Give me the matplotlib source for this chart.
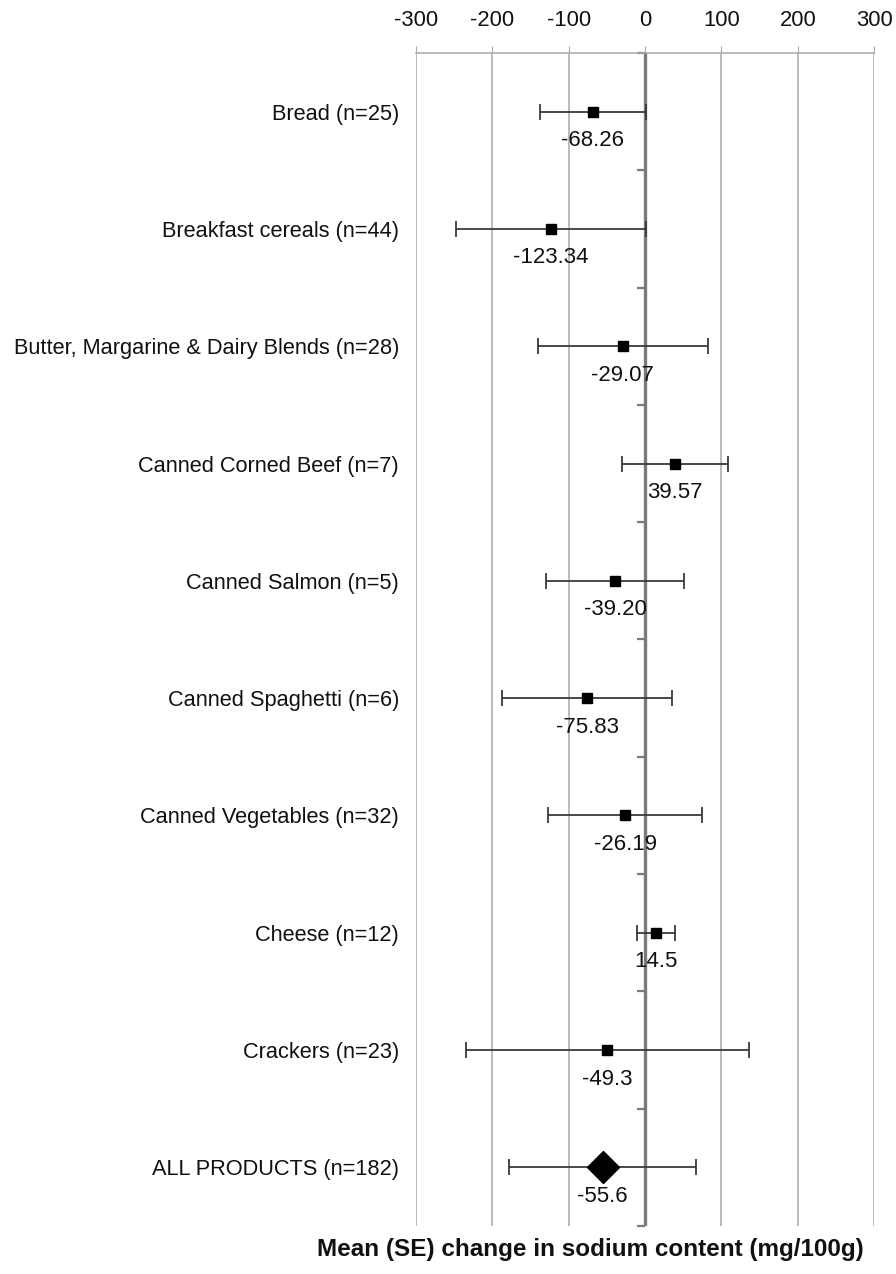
import numpy as np
import matplotlib.pyplot as plt

plt.rcParams['font.family'] = ['Liberation Sans', 'DejaVu Sans']

categories = ["Bread (n=25)", "Breakfast cereals (n=44)",
              "Butter, Margarine & Dairy Blends (n=28)", "Canned Corned Beef (n=7)",
              "Canned Salmon (n=5)", "Canned Spaghetti (n=6)",
              "Canned Vegetables (n=32)", "Cheese (n=12)", "Crackers (n=23)",
              "ALL PRODUCTS (n=182)"]
means = [-68.26, -123.34, -29.07, 39.57, -39.20, -75.83, -26.19, 14.5, -49.3, -55.6]
labels = ["-68.26", "-123.34", "-29.07", "39.57", "-39.20", "-75.83", "-26.19",
          "14.5", "-49.3", "-55.6"]
se = [69.5, 124.5, 111.5, 69.5, 90.7, 111.0, 101.0, 25.0, 185.0, 122.0]
xticks = [-300, -200, -100, 0, 100, 200, 300]

fig = plt.figure(figsize=(8.96, 12.74), dpi=100)
ax = fig.add_axes([0.464, 0.0377, 0.5118, 0.9207])

y = np.arange(len(categories))
grid_c = '#a8a8a8'
txt_c = '#111111'

# individual food groups as squares, the overall estimate as a diamond
ax.errorbar(means[:-1], y[:-1], xerr=se[:-1], fmt='s', color='black', ms=7,
            ecolor='#3a3a3a', elinewidth=1.3, capsize=6, capthick=1.3, zorder=4)
ax.errorbar(means[-1:], y[-1:], xerr=se[-1:], fmt='D', color='black', ms=16,
            ecolor='#3a3a3a', elinewidth=1.3, capsize=6, capthick=1.3, zorder=4)

for yi, m, lab in zip(y, means, labels):
    ax.annotate(lab, (m, yi), xytext=(0, -29), textcoords='offset pixels',
                ha='center', va='center', fontsize=16, color=txt_c, zorder=5)

ax.set_xlim(-300, 300)
ax.set_ylim(len(categories) - 0.5, -0.5)
ax.set_xticks(xticks)
ax.set_xticklabels([str(t) for t in xticks], fontsize=15.8, color=txt_c)
ax.xaxis.tick_top()
ax.tick_params(axis='x', length=5, color=grid_c, pad=11)
ax.grid(axis='x', color=grid_c, lw=1.1, zorder=0)

ax.set_yticks(y)
ax.set_yticklabels(categories, fontsize=15.7, color=txt_c)
ax.tick_params(axis='y', length=0, pad=12)

for s in ['left', 'right', 'bottom']:
    ax.spines[s].set_visible(False)
ax.spines['top'].set_color(grid_c)
ax.spines['top'].set_linewidth(1.1)

# zero line with small separators between the categories
ax.axvline(0, color='#7a7a7a', lw=2.4, zorder=2)
bounds = np.arange(len(categories) + 1) - 0.5
ax.plot(np.zeros_like(bounds), bounds, ls='none', marker=0, ms=6, mew=1.6,
        color='#7a7a7a', zorder=2, clip_on=False)

fig.text(0.659, 0.019, "Mean (SE) change in sodium content (mg/100g)",
         ha='center', va='center', fontsize=17.5, fontweight='bold', color=txt_c)

fig.savefig('out.png', dpi=100)
